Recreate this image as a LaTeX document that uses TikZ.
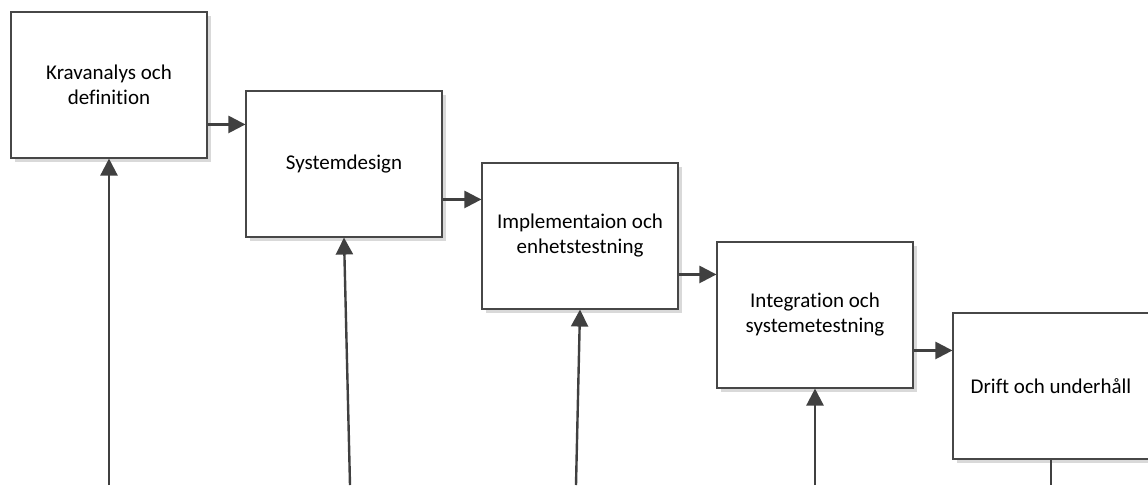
\documentclass[tikz,border=0pt]{standalone}
\usepackage{fontspec}
\setmainfont{Carlito}[Ligatures=CommonOff]
\usetikzlibrary{shadows,arrows.meta,calc}
\begin{document}
\begin{tikzpicture}[x=1pt,y=-1pt,
  stage/.style={draw=black!72,line width=1.1pt,fill=white,minimum width=196pt,minimum height=146pt,
    inner sep=0pt,align=center,font=\fontsize{21}{25}\selectfont,
    drop shadow={shadow xshift=3.5pt,shadow yshift=-3.5pt,fill=black!15,opacity=1}},
  arr/.style={draw=black!75,line width=2.4pt,-{Triangle[length=17pt,width=17pt]}},
  plain/.style={draw=black!75,line width=2.4pt}]
\useasboundingbox (0,0) rectangle (1148,485);
\node[stage] (b1) at (109,85) {Kravanalys och\\definition};
\node[stage] (b2) at (344,164) {Systemdesign};
\node[stage] (b3) at (580,236) {Implementaion och\\enhetstestning};
\node[stage] (b4) at (815,315) {Integration och\\systemetestning};
\node[stage] (b5) at (1051,386) {Drift och underhåll};
\coordinate (a12) at ($(b2.north west)+(0,34)$);
\coordinate (a23) at ($(b3.north west)+(0,37)$);
\coordinate (a34) at ($(b4.north west)+(0,33)$);
\coordinate (a45) at ($(b5.north west)+(0,38)$);
\draw[arr] (a12 -| b1.east) -- (a12);
\draw[arr] (a23 -| b2.east) -- (a23);
\draw[arr] (a34 -| b3.east) -- (a34);
\draw[arr] (a45 -| b4.east) -- (a45);
\coordinate (f1) at (109,485);
\coordinate (f2) at (350,485);
\coordinate (f3) at (576,485);
\coordinate (f4) at (815,485);
\coordinate (f5) at (1051,485);
\draw[arr] (f1) -- (b1.south);
\draw[arr] (f2) -- (b2.south);
\draw[arr] (f3) -- (b3.south);
\draw[arr] (f4) -- (b4.south);
\draw[plain] (b5.south) -- (f5);
\end{tikzpicture}
\end{document}
